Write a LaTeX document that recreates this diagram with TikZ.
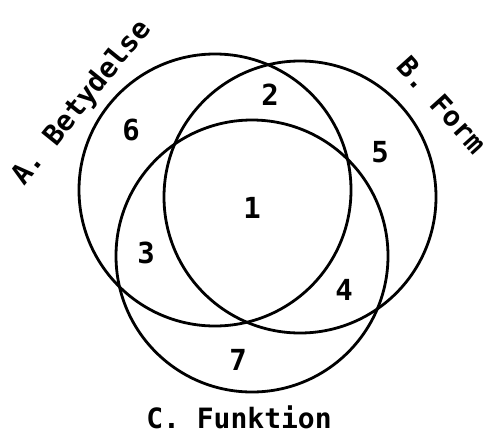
\documentclass[tikz,border=0pt]{standalone}
\usepackage{fontspec}
\setmonofont{DejaVu Sans Mono}
\usepackage{tikz}

\begin{document}
\begin{tikzpicture}[x=1pt, y=-1pt,
    vennset/.style={draw, circle, line width=2.8pt, minimum size=272pt, inner sep=0pt},
    region/.style={font=\ttfamily\bfseries\fontsize{29}{29}\selectfont},
    setname/.style={font=\ttfamily\bfseries\fontsize{28}{28}\selectfont}]
  \useasboundingbox (0,0) rectangle (492,434);

  % the three sets
  \node[vennset] (setA) at (215,190) {};
  \node[vennset] (setB) at (300,197) {};
  \node[vennset] (setC) at (252,256) {};

  % set names
  \node[setname, rotate=51] (nameA) at (82,103) {A. Betydelse};
  \node[setname, rotate=-48] (nameB) at (442,105) {B. Form};
  \node[setname] (nameC) at (239,417) {C. Funktion};

  % regions
  \node[region] (r1) at (252,208) {1};
  \node[region] (r2) at (270,95) {2};
  \node[region] (r3) at (146,253) {3};
  \node[region] (r4) at (344,290) {4};
  \node[region] (r5) at (380,152) {5};
  \node[region] (r6) at (131,130) {6};
  \node[region] (r7) at (238,360) {7};
\end{tikzpicture}
\end{document}
